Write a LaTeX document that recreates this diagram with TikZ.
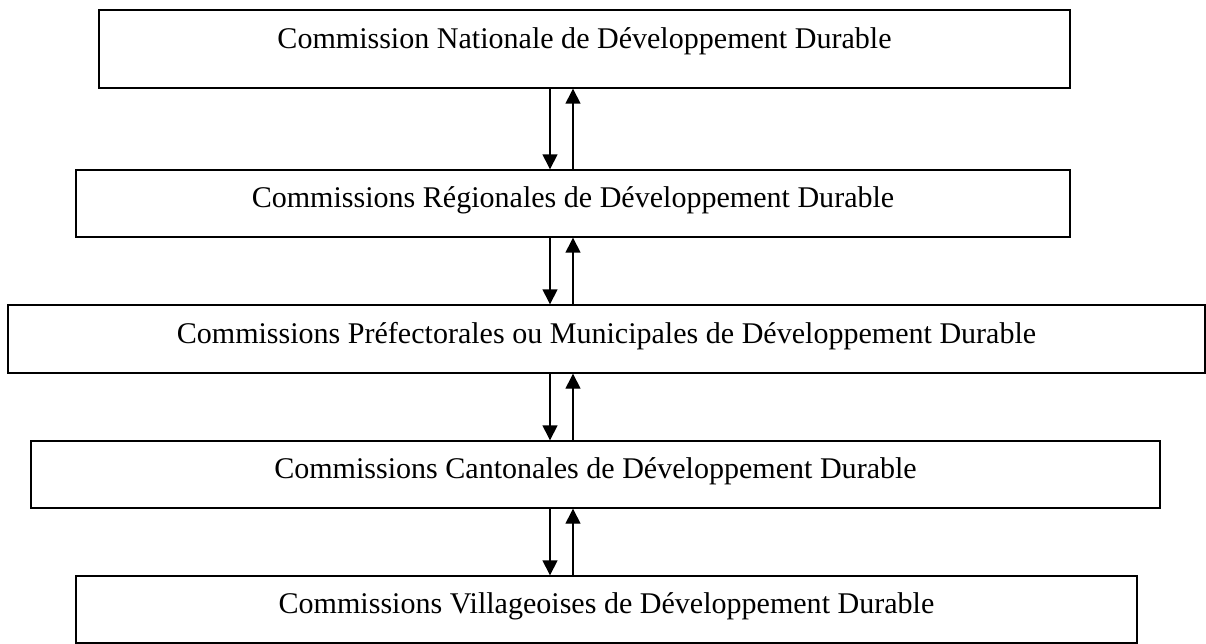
\documentclass[tikz,border=0pt]{standalone}
\usepackage{fontspec}
\setmainfont{Liberation Serif}
\usetikzlibrary{positioning,arrows.meta}

\tikzset{
	box/.style={draw=black,line width=0.8pt,rectangle,inner sep=0pt},
	label text/.style={anchor=base,font=\fontsize{17.1}{20}\selectfont},
	flow/.style={line width=0.8pt,-{Triangle[width=0.3cm,length=0.3cm]}}
}

\begin{document}
\begin{tikzpicture}[x=0.02cm,y=-0.02cm]
	\useasboundingbox (0,0) rectangle (1206,643);

	% boxes
	\node[box,minimum width=19.42cm,minimum height=1.56cm] (nat) at (584.5,49) {};
	\node[box,minimum width=19.88cm,minimum height=1.34cm] (reg) at (573,203.5) {};
	\node[box,minimum width=23.94cm,minimum height=1.36cm] (pref) at (606.5,339) {};
	\node[box,minimum width=22.58cm,minimum height=1.34cm] (cant) at (595.5,474.5) {};
	\node[box,minimum width=21.22cm,minimum height=1.34cm] (vill) at (606.5,609.5) {};

	% texts
	\node[label text] (natT) at (584.5,48) {Commission Nationale de Développement Durable};
	\node[label text] (regT) at (573,207) {Commissions Régionales de Développement Durable};
	\node[label text] (prefT) at (606.5,343) {Commissions Préfectorales ou Municipales de Développement Durable};
	\node[label text] (cantT) at (595.5,478) {Commissions Cantonales de Développement Durable};
	\node[label text] (villT) at (606.5,613) {Commissions Villageoises de Développement Durable};

	% arrows
	\coordinate (dn) at (550,0);
	\coordinate (up) at (573,0);
	\draw[flow] (nat.south -| dn) -- (reg.north -| dn);
	\draw[flow] (reg.north -| up) -- (nat.south -| up);
	\draw[flow] (reg.south -| dn) -- (pref.north -| dn);
	\draw[flow] (pref.north -| up) -- (reg.south -| up);
	\draw[flow] (pref.south -| dn) -- (cant.north -| dn);
	\draw[flow] (cant.north -| up) -- (pref.south -| up);
	\draw[flow] (cant.south -| dn) -- (vill.north -| dn);
	\draw[flow] (vill.north -| up) -- (cant.south -| up);
\end{tikzpicture}
\end{document}
